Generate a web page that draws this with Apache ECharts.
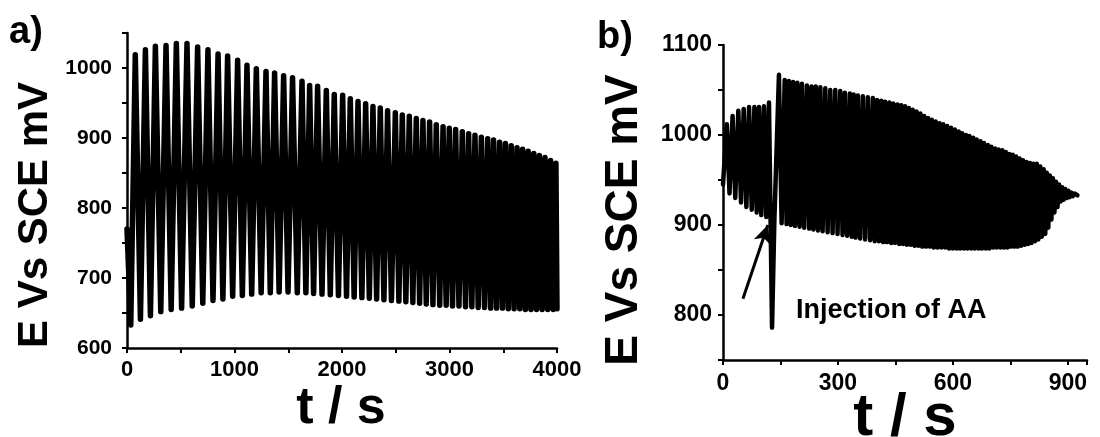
<!DOCTYPE html>
<html>
<head>
<meta charset="utf-8">
<script src="https://cdn.jsdelivr.net/npm/echarts@6/dist/echarts.min.js"></script>
<style>
html,body{margin:0;padding:0;background:#fff;}
#c{width:1100px;height:437px;}
</style>
</head>
<body>
<div id="c"></div>
<script>
// ---------- Panel a) data (t / s, E / mV) ----------
var aStart = [0, 770];
var aTroughT = [35,125,218,314,411,508,607,705,800,892,983,1073,1160,1248,1333,1415,1498,1584,1664,1736,1814,1891,1967,2042,2113,2185,2254,2322,2390,2460,2529,2594,2659,2722,2784,2846,2909,2969,3028,3088,3149,3208,3267,3326,3383,3438,3493,3547,3601,3654,3706,3758,3810,3862,3914,3965];
var aTroughE = [633,641,646,652,655,657,660,664,668,670,674,675,677,679,679,680,680,679,679,678,677,676,675,674,673,672,671,670,669,668,667,666,665,664,663,662,661,661,660,660,659,659,658,658,657,657,657,656,656,656,655,655,655,655,655,655];
var aPeakT = [77,171,264,363,459,558,657,753,847,936,1029,1116,1203,1293,1373,1457,1540,1628,1699,1773,1854,1928,2006,2077,2149,2220,2288,2356,2424,2496,2561,2626,2691,2753,2815,2877,2940,2998,3057,3119,3178,3237,3296,3355,3410,3466,3520,3574,3628,3680,3732,3784,3836,3888,3940,3990];
var aPeakE = [1019,1026,1031,1032,1035,1035,1030,1026,1020,1017,1011,1004,999,995,993,989,986,981,975,974,968,962,961,956,952,949,945,943,939,936,933,931,928,925,923,919,916,914,912,909,906,904,901,899,897,894,892,889,886,884,881,878,875,872,868,864];
var aEnd = [4000, 656];

// ---------- Panel b) data ----------
var bStart = [0, 945];
var bPrePeakT = [10,25,40,54,68,82,94,107,120];
var bPrePeakE = [1012,1021,1027,1029,1031,1031,1031,1032,1036];
var bPreTroughT = [17,32,47,61,75,88,100,113];
var bPreTroughE = [935,930,925,920,917,914,911,909];
var bInjT = [128,134];
var bInjE = [786,904];
var bPostPeakT = [146,161,172,183,194,206,219,231,242,254,267,280,293,306,318,331,341,352,365,378,391,402,413,423,434,444,455,465,475,485,495,505,515,525,535,545,555,565,575,585,595,605,615,624,634,643,653,662,672,681,691,700,710,719,729,738,747,756,765,774,783,792,801,810,819,828,837,845,853,861,869,877,885,893,901,909,917];
var bPostPeakE = [1067,1061,1060,1059,1058,1057,1055,1054,1054,1053,1052,1050,1050,1049,1047,1046,1045,1044,1043,1042,1041,1039,1038,1037,1036,1035,1034,1033,1032,1030,1028,1026,1024,1021,1019,1017,1015,1013,1012,1010,1008,1006,1004,1002,1000,999,997,995,993,991,989,987,985,984,983,981,979,978,976,974,972,970,969,968,968,965,962,958,955,952,948,945,942,940,938,936,935];
var bPostTroughT = [153,166,177,188,200,212,225,236,248,260,273,286,299,312,324,336,346,358,371,384,396,407,418,428,439,449,460,470,480,490,500,510,520,530,540,550,560,570,580,590,600,610,619,629,638,648,657,667,676,686,695,705,714,724,733,742,751,760,769,778,787,796,805,814,823,832,841,849,857,865,873,881,889,897,905,913];
var bPostTroughE = [902,901,900,899,898,897,896,895,894,893,892,891,890,889,888,887,886,885,884,883,882,882,881,881,880,880,879,879,878,878,877,877,876,876,876,875,875,875,875,874,874,874,874,874,874,874,874,874,874,874,874,875,875,875,875,875,876,876,876,877,878,879,880,882,884,887,890,897,906,914,920,926,928,930,931,932];
var bEnd = [925, 933];
var arrowFrom = [52, 818];
var arrowTo = [117, 900];

// ---------- Axis ranges / tick steps ----------
var aX = {min: 0, max: 4000, tick: 500, label: 1000};
var aY = {min: 600, max: 1050, tick: 50, label: 100};
var bX = {min: 0, max: 950, tick: 150, label: 300};
var bY = {min: 750, max: 1100, tick: 50, label: 100};

// build line data
var aData = [aStart];
for (var i = 0; i < aPeakT.length; i++) {
  aData.push([aTroughT[i], aTroughE[i]]);
  aData.push([aPeakT[i], aPeakE[i]]);
}
aData.push(aEnd);

var bData = [bStart];
for (var i = 0; i < bPrePeakT.length; i++) {
  bData.push([bPrePeakT[i], bPrePeakE[i]]);
  if (i < bPreTroughT.length) bData.push([bPreTroughT[i], bPreTroughE[i]]);
}
for (var i = 0; i < bInjT.length; i++) bData.push([bInjT[i], bInjE[i]]);
for (var i = 0; i < bPostPeakT.length; i++) {
  bData.push([bPostPeakT[i], bPostPeakE[i]]);
  if (i < bPostTroughT.length) bData.push([bPostTroughT[i], bPostTroughE[i]]);
}
bData.push(bEnd);

var FONT = 'Liberation Sans, Arial, sans-serif';

function axis(type, gridIndex, r, fs, margin) {
  return {
    type: 'value', gridIndex: gridIndex, min: r.min, max: r.max, interval: r.tick,
    position: type === 'x' ? 'bottom' : 'left',
    axisLine: {show: true, onZero: false, lineStyle: {color: '#000', width: 2.5}},
    axisTick: {show: true, inside: false, length: 5, lineStyle: {color: '#000', width: 2}},
    axisLabel: {
      show: true, margin: margin, color: '#000', showMaxLabel: true, showMinLabel: true,
      fontFamily: FONT, fontWeight: 'bold', fontSize: fs,
      formatter: function (v) {
        return (Math.abs(v % r.label) < 1e-6 && v <= r.max) ? String(v) : '';
      }
    },
    splitLine: {show: false}
  };
}

var chart = echarts.init(document.getElementById('c'), null, {renderer: 'canvas'});
chart.setOption({
  animation: false,
  backgroundColor: '#fff',
  grid: [
    {left: 127, top: 33, width: 430, height: 315},
    {left: 723, top: 45, width: 364, height: 315}
  ],
  xAxis: [
    axis('x', 0, aX, 22, 11),
    axis('x', 1, bX, 23, 12)
  ],
  yAxis: [
    axis('y', 0, aY, 21, 15),
    axis('y', 1, bY, 23, 11)
  ],
  series: [
    {
      type: 'line', xAxisIndex: 0, yAxisIndex: 0, data: aData,
      showSymbol: false, symbol: 'none', smooth: false, sampling: null,
      lineStyle: {color: '#000', width: 5.5, join: 'round', cap: 'round'}
    },
    {
      type: 'line', xAxisIndex: 1, yAxisIndex: 1, data: bData,
      showSymbol: false, symbol: 'none', smooth: false,
      lineStyle: {color: '#000', width: 4.5, join: 'round', cap: 'round'},
      markLine: {
        silent: true, animation: false,
        symbol: ['none', 'arrow'], symbolSize: [13, 18],
        label: {show: false},
        lineStyle: {color: '#000', width: 3, type: 'solid'},
        data: [[{coord: arrowFrom}, {coord: arrowTo}]]
      }
    }
  ],
  graphic: [
    {type: 'text', x: 9, y: 33, style: {text: 'a)', font: 'bold 38px ' + FONT, fill: '#000', textAlign: 'left', textVerticalAlign: 'middle'}},
    {type: 'text', x: 597, y: 38, style: {text: 'b)', font: 'bold 38px ' + FONT, fill: '#000', textAlign: 'left', textVerticalAlign: 'middle'}},
    {type: 'text', x: 35, y: 215, rotation: Math.PI / 2, style: {text: 'E Vs SCE mV', font: 'bold 42px ' + FONT, fill: '#000', textAlign: 'center', textVerticalAlign: 'middle'}},
    {type: 'text', x: 624, y: 220, rotation: Math.PI / 2, style: {text: 'E Vs SCE mV', font: 'bold 46px ' + FONT, fill: '#000', textAlign: 'center', textVerticalAlign: 'middle'}},
    {type: 'text', x: 341, y: 409, style: {text: 't / s', font: 'bold 52px ' + FONT, fill: '#000', textAlign: 'center', textVerticalAlign: 'middle'}},
    {type: 'text', x: 905, y: 418, style: {text: 't / s', font: 'bold 60px ' + FONT, fill: '#000', textAlign: 'center', textVerticalAlign: 'middle'}},
    {type: 'text', x: 796, y: 311, style: {text: 'Injection of AA', font: 'bold 27px ' + FONT, fill: '#000', textAlign: 'left', textVerticalAlign: 'middle'}}
  ]
});
</script>
</body>
</html>
